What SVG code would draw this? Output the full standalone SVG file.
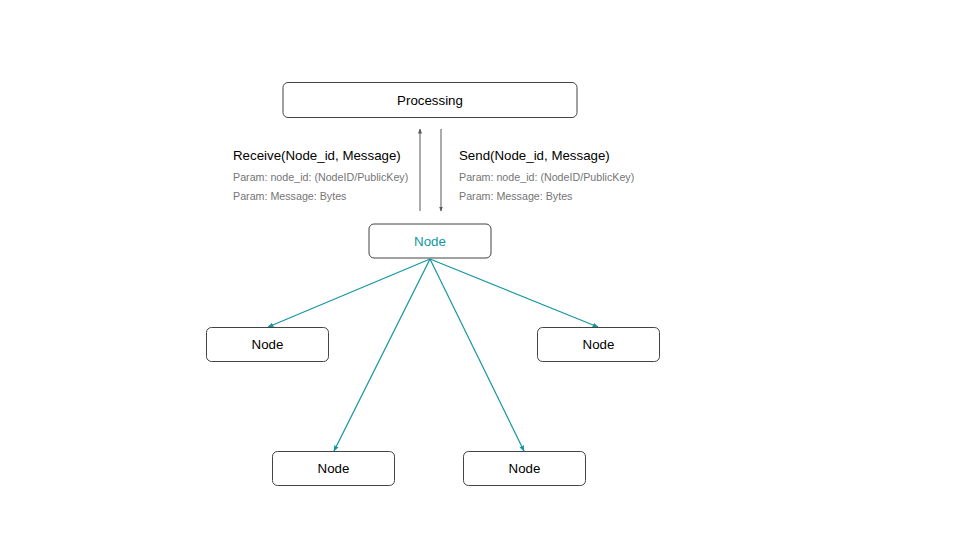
<svg xmlns="http://www.w3.org/2000/svg" width="960" height="540" viewBox="0 0 960 540">
<style>
.box{fill:#fff;stroke:#434343;stroke-width:1}
.t{font-family:"Liberation Sans",Arial,sans-serif;font-size:13.3px;fill:#000;text-anchor:middle}
.teal{fill:#0e97a3}
.lbl{font-family:"Liberation Sans",Arial,sans-serif;font-size:13.3px;fill:#000}
.p{font-family:"Liberation Sans",Arial,sans-serif;font-size:10.7px;fill:#757575}
.g{stroke:#595959;stroke-width:1;fill:none}
.c{stroke:#1596a2;stroke-width:1.2;fill:none}
</style>
<defs>
<marker id="ag" viewBox="0 0 10 10" refX="9" refY="5" markerWidth="5" markerHeight="5" orient="auto"><path d="M0,1 L10,5 L0,9 z" fill="#595959"/></marker>
<marker id="at" viewBox="0 0 10 10" refX="9" refY="5" markerWidth="5" markerHeight="5" orient="auto"><path d="M0,1 L10,5 L0,9 z" fill="#1596a2"/></marker>
</defs>
<rect width="960" height="540" fill="#fff"/>
<g id="connectors">
<line class="g" x1="420" y1="211" x2="420" y2="129" marker-end="url(#ag)"/>
<line class="g" x1="441" y1="129" x2="441" y2="211" marker-end="url(#ag)"/>
<line class="c" x1="430" y1="259" x2="268" y2="327" marker-end="url(#at)"/>
<line class="c" x1="430" y1="259" x2="598" y2="327" marker-end="url(#at)"/>
<line class="c" x1="430" y1="259" x2="334" y2="451" marker-end="url(#at)"/>
<line class="c" x1="430" y1="259" x2="524" y2="451" marker-end="url(#at)"/>
</g>
<g id="processing"><rect class="box" x="283" y="82.5" width="294" height="35" rx="5"/><text class="t" x="430" y="105">Processing</text></g>
<g id="labels">
<text class="lbl" x="233" y="160">Receive(Node_id, Message)</text>
<text class="p" x="233" y="181">Param: node_id: (NodeID/PublicKey)</text>
<text class="p" x="233" y="200">Param: Message: Bytes</text>
<text class="lbl" x="459" y="160">Send(Node_id, Message)</text>
<text class="p" x="459" y="181">Param: node_id: (NodeID/PublicKey)</text>
<text class="p" x="459" y="200">Param: Message: Bytes</text>
</g>
<g id="node-main"><rect class="box" x="369" y="224" width="122" height="34" rx="5"/><text class="t teal" x="430" y="246">Node</text></g>
<g id="node-left"><rect class="box" x="206.5" y="327.5" width="122" height="34" rx="5"/><text class="t" x="267.5" y="349">Node</text></g>
<g id="node-right"><rect class="box" x="537.5" y="327.5" width="122" height="34" rx="5"/><text class="t" x="598.5" y="349">Node</text></g>
<g id="node-bl"><rect class="box" x="272.5" y="451.5" width="122" height="34" rx="5"/><text class="t" x="333.5" y="473">Node</text></g>
<g id="node-br"><rect class="box" x="463.5" y="451.5" width="122" height="34" rx="5"/><text class="t" x="524.5" y="473">Node</text></g>
</svg>
